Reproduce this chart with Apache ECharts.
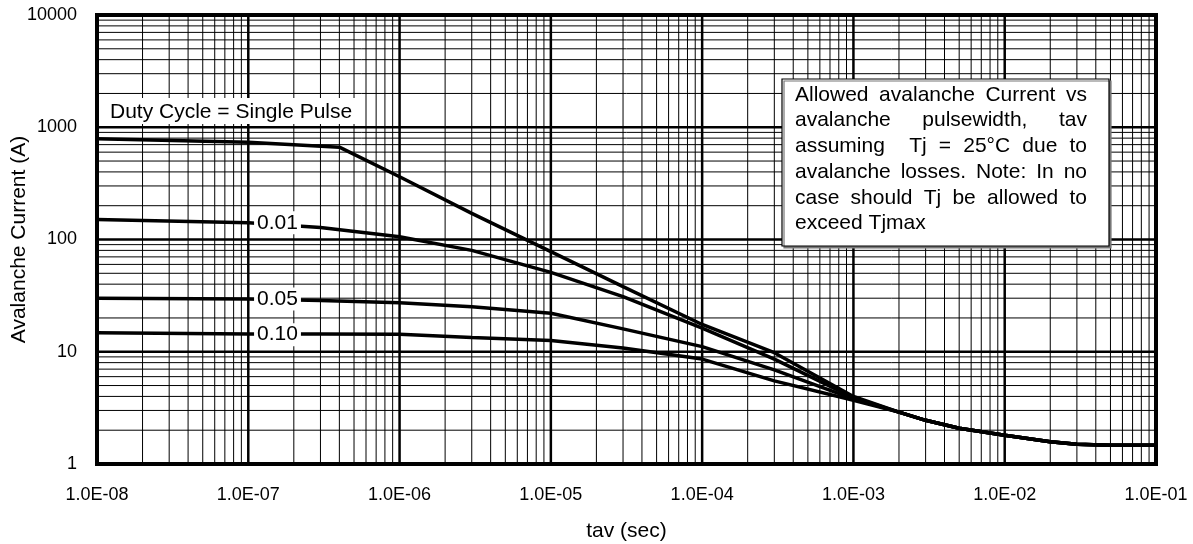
<!DOCTYPE html>
<html>
<head>
<meta charset="utf-8">
<script src="https://cdn.jsdelivr.net/npm/echarts@6/dist/echarts.min.js"></script>
<style>
html, body { margin: 0; padding: 0; background: #fff; }
#main { width: 1193px; height: 544px; }
</style>
</head>
<body>
<div id="main"></div>
<script>
var FONT = '"Liberation Sans", Arial, sans-serif';

// avalanche pulse width tav (s) and current (A)
var tavSingle = [1e-8, 1e-7, 4e-7, 1e-6, 3e-6, 1e-5, 3e-5, 1e-4, 3e-4, 1e-3];
var ampSingle = [790, 735, 665, 362, 171, 78, 38, 17.5, 9.8, 4.0];
var tavDuty = [1e-8, 1e-7, 3e-7, 1e-6, 3e-6, 1e-5, 3e-5, 1e-4, 3e-4, 1e-3];
var amp001 = [151, 141, 128, 106, 80, 51, 31, 16.2, 8.6, 3.9];
var amp005 = [29.9, 29.5, 28.6, 27.3, 25.2, 22, 16, 11.1, 6.9, 3.8];
var amp010 = [14.8, 14.4, 14.4, 14.3, 13.4, 12.6, 10.8, 8.6, 5.5, 3.7];
// past ~1 ms all curves run together
var tavTail = [2e-3, 3e-3, 5e-3, 1e-2, 2e-2, 3e-2, 5e-2, 1e-1];
var ampTail = [2.9, 2.45, 2.08, 1.8, 1.58, 1.5, 1.47, 1.47];

var dutyNames = ['0.01', '0.05', '0.10'];
var labelTav = 1.56e-7;
var labelAmp = [141, 29.5, 14.2];

var xDecades = [1e-8, 1e-7, 1e-6, 1e-5, 1e-4, 1e-3, 1e-2, 1e-1];
var yDecades = [1, 10, 100, 1000, 10000];
var minorSteps = [2, 3, 4, 5, 6, 7, 8, 9];

var noteLines = [
    ['Allowed', 'avalanche', 'Current', 'vs'],
    ['avalanche', 'pulsewidth,', 'tav'],
    ['assuming', '', 'Tj', '=', '25°C', 'due', 'to'],
    ['avalanche', 'losses.', 'Note:', 'In', 'no'],
    ['case', 'should', 'Tj', 'be', 'allowed', 'to'],
    ['exceed Tjmax']
];

function curve(xs, ys) {
    var pts = xs.map(function (x, i) { return [x, ys[i]]; });
    return pts.concat(tavTail.map(function (x, i) { return [x, ampTail[i]]; }));
}

// grid values per decade: inner decades are major, 2..9 are minor
function gridValues(decades, major) {
    var out = [];
    decades.forEach(function (d, i) {
        if (i == decades.length - 1) return;
        if (major) {
            if (i > 0) out.push(d);
        } else {
            minorSteps.forEach(function (m) { out.push(d * m); });
        }
    });
    return out;
}

// one broken polyline holding all the grid segments
function gridSegments(major) {
    var xMin = xDecades[0], xMax = xDecades[xDecades.length - 1];
    var yMin = yDecades[0], yMax = yDecades[yDecades.length - 1];
    var pts = [];
    gridValues(xDecades, major).forEach(function (v) {
        pts.push([v, yMin], [v, yMax], [v, '-']);
    });
    gridValues(yDecades, major).forEach(function (v) {
        pts.push([xMin, v], [xMax, v], [xMax, '-']);
    });
    return pts;
}

function sciLabel(v) {
    var p = v.toExponential(1).split('e');
    var e = parseInt(p[1], 10);
    var s = e < 0 ? '-' : '+';
    e = Math.abs(e);
    return p[0] + 'E' + s + (e < 10 ? '0' + e : e);
}

// justified note text, one text element per word
var measure = document.createElement('canvas').getContext('2d');
measure.font = '21px ' + FONT;
var noteLeft = 795, noteRight = 1087, noteTop = 95, noteStep = 25.7;
var noteTexts = [];
noteLines.forEach(function (words, li) {
    var y = noteTop + li * noteStep;
    var widths = words.map(function (w) { return measure.measureText(w).width; });
    var total = widths.reduce(function (a, b) { return a + b; }, 0);
    var gap = words.length > 1 ? (noteRight - noteLeft - total) / (words.length - 1) : 0;
    var x = noteLeft;
    words.forEach(function (w, wi) {
        if (w) {
            noteTexts.push({
                type: 'text', x: x, y: y, z: 12,
                style: {text: w, font: '21px ' + FONT, fill: '#000', verticalAlign: 'middle', align: 'left'}
            });
        }
        x += widths[wi] + gap;
    });
});

var chart = echarts.init(document.getElementById('main'));

var dutyData = [amp001, amp005, amp010];
var dutySeries = dutyNames.map(function (name, i) {
    return {
        name: name,
        type: 'line',
        data: curve(tavDuty, dutyData[i]),
        showSymbol: false,
        lineStyle: {color: '#000', width: 3.5},
        z: 3,
        markPoint: {
            symbol: 'rect',
            symbolSize: 1,
            itemStyle: {color: 'rgba(0,0,0,0)'},
            label: {
                show: true,
                position: 'inside',
                formatter: name,
                backgroundColor: '#fff',
                padding: [1, 3],
                color: '#000',
                fontSize: 21,
                fontFamily: FONT
            },
            data: [{coord: [labelTav, labelAmp[i]]}]
        }
    };
});

var option = {
    animation: false,
    backgroundColor: '#fff',
    textStyle: {fontFamily: FONT},
    grid: {
        left: 97, right: 37, top: 15, bottom: 80,
        containLabel: false,
        outerBoundsMode: 'none',
        show: true, borderColor: '#000', borderWidth: 4, backgroundColor: '#fff'
    },
    xAxis: {
        type: 'log',
        logBase: 10,
        min: 1e-8,
        max: 1e-1,
        splitNumber: 7,
        name: 'tav (sec)',
        nameLocation: 'middle',
        nameGap: 57,
        nameMoveOverlap: false,
        nameTextStyle: {fontSize: 21, color: '#000', fontFamily: FONT},
        axisLine: {show: false},
        axisTick: {show: false},
        splitLine: {show: false},
        axisLabel: {fontSize: 18, color: '#000', margin: 22, fontFamily: FONT, formatter: sciLabel}
    },
    yAxis: {
        type: 'log',
        logBase: 10,
        min: 1,
        max: 10000,
        splitNumber: 4,
        name: 'Avalanche Current (A)',
        nameLocation: 'middle',
        nameGap: 67,
        nameMoveOverlap: false,
        nameTextStyle: {fontSize: 21, color: '#000', fontFamily: FONT},
        axisLine: {show: false},
        axisTick: {show: false},
        splitLine: {show: false},
        axisLabel: {
            fontSize: 18, color: '#000', margin: 20, fontFamily: FONT,
            formatter: function (v) { return String(Math.round(v)); }
        }
    },
    series: [
        {
            name: 'gridMinor',
            type: 'line',
            data: gridSegments(false),
            showSymbol: false,
            silent: true,
            connectNulls: false,
            lineStyle: {color: '#000', width: 1},
            z: 1
        },
        {
            name: 'gridMajor',
            type: 'line',
            data: gridSegments(true),
            showSymbol: false,
            silent: true,
            connectNulls: false,
            lineStyle: {color: '#000', width: 2.5},
            z: 1
        },
        {
            name: 'Single Pulse',
            type: 'line',
            data: curve(tavSingle, ampSingle),
            showSymbol: false,
            lineStyle: {color: '#000', width: 3.5},
            z: 3
        }
    ].concat(dutySeries),
    graphic: [
        {
            type: 'rect', z: 10,
            shape: {x: 103, y: 98, width: 260, height: 26},
            style: {fill: '#fff'}
        },
        {
            type: 'text', x: 110, y: 112, z: 11,
            style: {text: 'Duty Cycle = Single Pulse', font: '21px ' + FONT, fill: '#000', verticalAlign: 'middle'}
        },
        {
            type: 'rect', z: 10,
            shape: {x: 782, y: 79, width: 327, height: 167},
            style: {fill: '#fff', stroke: '#000', lineWidth: 1.2, shadowColor: '#777', shadowOffsetX: 2, shadowOffsetY: 2}
        }
    ].concat(noteTexts)
};

chart.setOption(option);
</script>
</body>
</html>
